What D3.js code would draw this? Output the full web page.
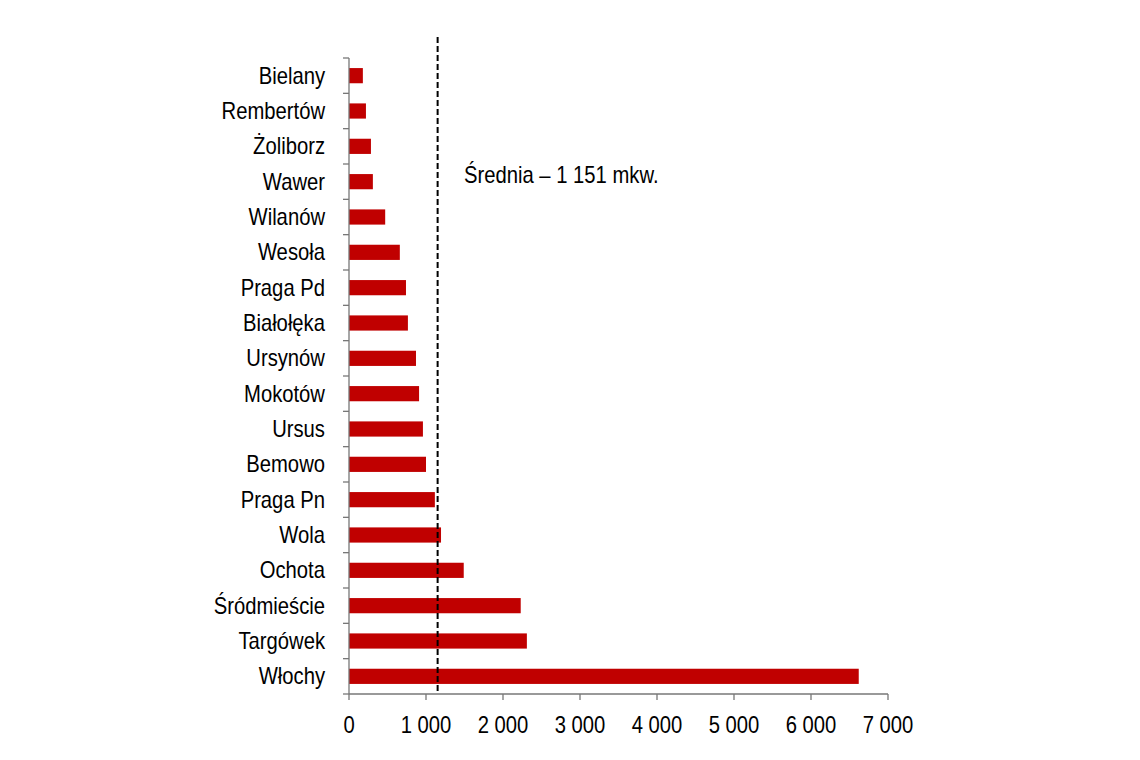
<!DOCTYPE html>
<html><head><meta charset="utf-8">
<script src="https://cdn.jsdelivr.net/npm/d3@7/dist/d3.min.js"></script>
<style>body{margin:0;background:#fff}svg{display:block}</style>
</head><body><svg id="c" width="1140" height="760"></svg>
<script>
const categories = ["Bielany","Rembertów","Żoliborz","Wawer","Wilanów","Wesoła","Praga Pd","Białołęka","Ursynów","Mokotów","Ursus","Bemowo","Praga Pn","Wola","Ochota","Śródmieście","Targówek","Włochy"];
const values = [180,220,285,310,470,660,740,765,870,910,960,1000,1115,1195,1490,2230,2310,6620];
const xTicks = [0,1000,2000,3000,4000,5000,6000,7000];
const average = 1151;
const avgLabel = "Średnia – 1 151 mkw.";

const svg = d3.select("#c");
const font = "'Liberation Sans', Arial, sans-serif";
const x = d3.scaleLinear().domain([0,7000]).range([349,888]);
const y = d3.scaleBand().domain(categories).range([58,694]).paddingInner(0.57).paddingOuter(0.285);
const fmt = d => d3.format(",")(d).replace(/,/g," ");
const sx = 0.88;
function txt(sel, xx, yy, anchor, s){
  sel.append("text").attr("transform",`translate(${xx},${yy}) scale(${sx},1)`)
    .attr("text-anchor",anchor).attr("font-family",font).attr("font-size",23).text(s);
}

svg.selectAll("rect.bar").data(values).join("rect")
  .attr("x", x(0)).attr("y", (d,i)=>y(categories[i]))
  .attr("width", d=>x(d)-x(0)).attr("height", y.bandwidth())
  .attr("fill","#C00000");

const g = svg.append("g");
g.append("line").attr("x1",x(0)).attr("x2",x(0)).attr("y1",58).attr("y2",694).attr("stroke","#777").attr("stroke-width",1.3);
d3.range(categories.length+1).forEach(i=>{
  const yy = 58 + i*(636/categories.length);
  g.append("line").attr("x1",x(0)-6).attr("x2",x(0)).attr("y1",yy).attr("y2",yy).attr("stroke","#777").attr("stroke-width",1.3);
});
categories.forEach(c=>txt(g, x(0)-24, y(c)+y.bandwidth()/2+8, "end", c));

g.append("line").attr("x1",x(0)).attr("x2",x(7000)).attr("y1",694).attr("y2",694).attr("stroke","#777").attr("stroke-width",1.3);
xTicks.forEach(t=>{
  g.append("line").attr("x1",x(t)).attr("x2",x(t)).attr("y1",694).attr("y2",700).attr("stroke","#777").attr("stroke-width",1.3);
  txt(g, x(t), 733, "middle", fmt(t));
});

svg.append("line").attr("x1",x(average)).attr("x2",x(average)).attr("y1",37).attr("y2",694)
  .attr("stroke","#000").attr("stroke-width",2).attr("stroke-dasharray","6,3");
txt(svg, 464, 183, "start", avgLabel);
</script></body></html>
